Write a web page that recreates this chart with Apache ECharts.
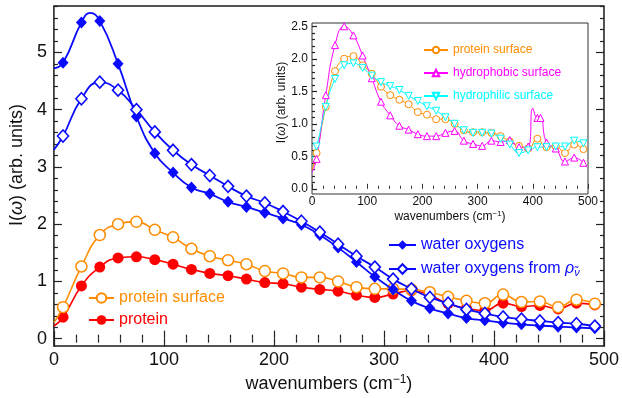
<!DOCTYPE html>
<html>
<head>
	<meta charset="UTF-8">
	<title></title>
	<style>
		html, body { margin: 0; padding: 0; background: #fff; }
		#chart { width: 622px; height: 398px; }
	</style>
	<script src="https://cdn.jsdelivr.net/npm/echarts@6/dist/echarts.min.js"></script>
</head>
<body>
	<div id="chart"></div>
	<script>
		// wavenumber of each sample (first one = start of curve, no marker)
		var wavenumbers = [0, 8.3, 25, 41.7, 58.3, 75, 91.7, 108.3, 125, 141.7, 158.3, 175, 191.7, 208.3, 225,
			241.7, 258.3, 275, 291.7, 308.3, 325, 341.7, 358.3, 375, 391.7, 408.3, 425, 441.7, 458.3, 475, 491.7];

		var waterOxygens = [4.72, 4.82, 5.52, 5.55, 4.80, 3.88, 3.24, 2.90, 2.64, 2.53, 2.39, 2.30, 2.20, 2.10, 1.99,
			1.81, 1.59, 1.34, 1.08, 0.86, 0.66, 0.53, 0.44, 0.36, 0.32, 0.28, 0.25, 0.23, 0.21, 0.195, 0.18];
		var waterOxygensPeak = [33, 5.69];   // top of the curve, line only
		var waterOxygensRho = [3.30, 3.54, 4.19, 4.48, 4.34, 4.00, 3.61, 3.29, 3.04, 2.85, 2.66, 2.49, 2.37, 2.22, 2.05,
			1.86, 1.65, 1.44, 1.25, 1.04, 0.87, 0.72, 0.62, 0.51, 0.44, 0.38, 0.34, 0.31, 0.28, 0.26, 0.22];
		var proteinSurface = [0.28, 0.55, 1.26, 1.81, 2.00, 2.04, 1.90, 1.77, 1.57, 1.44, 1.37, 1.30, 1.18, 1.14, 1.07,
			1.07, 1.00, 0.90, 0.87, 0.87, 0.86, 0.81, 0.73, 0.66, 0.62, 0.77, 0.64, 0.65, 0.55, 0.68, 0.61];
		var protein = [0.22, 0.375, 0.92, 1.25, 1.41, 1.43, 1.38, 1.30, 1.21, 1.14, 1.10, 1.04, 0.98, 0.96, 0.90,
			0.86, 0.83, 0.76, 0.72, 0.78, 0.84, 0.76, 0.61, 0.53, 0.49, 0.62, 0.56, 0.58, 0.52, 0.62, 0.59];

		// inset
		var hydrophobic = [0.25, 0.46, 1.44, 2.21, 2.50, 2.36, 2.05, 1.70, 1.34, 1.13, 0.97, 0.91, 0.84, 0.81, 0.81,
			0.86, 0.89, 0.74, 0.69, 0.66, 0.74, 0.72, 0.75, 0.64, 0.65, 1.09, 0.71, 0.62, 0.42, 0.48, 0.40];
		var hydrophobicPeak = [400, 1.24];   // line only
		var hydrophobicExtra = [414, 1.09];
		var hydrophilic = [0.47, 0.65, 1.26, 1.69, 1.90, 1.93, 1.86, 1.74, 1.64, 1.58, 1.52, 1.43, 1.35, 1.27, 1.20,
			1.10, 1.00, 0.90, 0.86, 0.86, 0.85, 0.77, 0.68, 0.55, 0.59, 0.64, 0.64, 0.65, 0.65, 0.74, 0.70];

		var mainYTicks = [0, 1, 2, 3, 4, 5];
		var insetYTicks = [0, 0.5, 1.0, 1.5, 2.0, 2.5];

		var BLUE = '#0a0aff', ORANGE = '#ff8c00', RED = '#ff0000', MAGENTA = '#ff00ff', CYAN = '#00ffff';
		var FONT = 'Liberation Sans';

		function pts(ys) {
			return wavenumbers.map(function (x, i) {
				if (i === 0) return { value: [x, ys[i]], symbol: 'none' };
				return [x, ys[i]];
			});
		}
		function byX(a, b) {
			var xa = a.value ? a.value[0] : a[0], xb = b.value ? b.value[0] : b[0];
			return xa - xb;
		}
		function minorList(step, from, to, majorStep) {
			var out = [];
			for (var v = from; v <= to + 1e-9; v += step) {
				var r = Math.round(v * 100) / 100;
				if (Math.abs(r / majorStep - Math.round(r / majorStep)) > 1e-6) out.push(r);
			}
			return out;
		}

		var waterData = pts(waterOxygens);
		waterData.push({ value: waterOxygensPeak, symbol: 'none' });
		waterData.sort(byX);

		var hydroData = pts(hydrophobic);
		hydroData.push({ value: hydrophobicPeak, symbol: 'none' });
		hydroData.push(hydrophobicExtra);
		hydroData.sort(byX);

		var myChart = echarts.init(document.getElementById('chart'));

		function yAx(grid, pos, min, max, vals, len, labels, extra) {
			var o = {
				type: 'value', gridIndex: grid, position: pos, min: min, max: max,
				axisLine: { show: false }, splitLine: { show: false },
				axisTick: { show: true, inside: true, length: len, customValues: vals, lineStyle: { color: '#222', width: 1.2 } },
				axisLabel: { show: false }
			};
			if (labels) o.axisLabel = labels;
			if (extra) for (var k in extra) o[k] = extra[k];
			return o;
		}

		myChart.setOption({
			animation: false,
			textStyle: { fontFamily: FONT },
			grid: [
				{ left: 52, right: 15, top: 6, bottom: 49, show: true, borderColor: '#1a1a1a', borderWidth: 1.5, backgroundColor: 'transparent' },
				{ left: 312, right: 34, top: 23, bottom: 204, show: true, borderColor: '#333', borderWidth: 1, backgroundColor: '#fff' }
			],
			xAxis: [
				{
					type: 'value', gridIndex: 0, min: 0, max: 500, interval: 100,
					axisLine: { show: false }, splitLine: { show: false },
					axisTick: { inside: true, length: 8, lineStyle: { color: '#222', width: 1.2 } },
					minorTick: { show: true, splitNumber: 5, length: 4, lineStyle: { color: '#222', width: 1.2 } },
					axisLabel: { fontSize: 18, color: '#111', margin: 5, fontFamily: FONT },
					name: 'wavenumbers (cm{s|\u22121})', nameLocation: 'middle', nameGap: 24,
					nameTextStyle: { fontSize: 18, color: '#111', fontFamily: FONT,
						rich: { s: { fontSize: 12, verticalAlign: 'top', padding: [0, 0, 8, 0], color: '#111', fontFamily: FONT } } }
				},
				{
					type: 'value', gridIndex: 0, position: 'top', min: 0, max: 500, interval: 100,
					axisLine: { show: false }, splitLine: { show: false },
					axisTick: { inside: true, length: 8, lineStyle: { color: '#222', width: 1.2 } },
					minorTick: { show: true, splitNumber: 5, length: 4, lineStyle: { color: '#222', width: 1.2 } },
					axisLabel: { show: false }
				},
				{
					type: 'value', gridIndex: 1, min: 0, max: 500, interval: 100,
					axisLine: { show: false }, splitLine: { show: false },
					axisTick: { inside: true, length: 5, lineStyle: { color: '#333' } },
					minorTick: { show: true, splitNumber: 5, length: 3, lineStyle: { color: '#333' } },
					axisLabel: { fontSize: 12, color: '#111', margin: 2, fontFamily: FONT },
					name: 'wavenumbers (cm{s|\u22121})', nameLocation: 'middle', nameGap: 16,
					nameTextStyle: { fontSize: 12, color: '#111', fontFamily: FONT,
						rich: { s: { fontSize: 8, verticalAlign: 'top', padding: [0, 0, 5, 0], color: '#111', fontFamily: FONT } } }
				}
			],
			yAxis: [
				yAx(0, 'left', -0.13, 5.81, mainYTicks, 8,
					{ show: true, customValues: mainYTicks, fontSize: 18, color: '#111', margin: 7, fontFamily: FONT },
					{
						name: 'I({i|\u03c9}) (arb. units)', nameLocation: 'middle', nameGap: 25, nameRotate: 90,
						nameTextStyle: { fontSize: 18, color: '#111', fontFamily: FONT, padding: [0, 0, 0, 22],
							rich: { i: { fontSize: 18, fontStyle: 'italic', color: '#111', fontFamily: FONT } } }
					}),
				yAx(0, 'left', -0.13, 5.81, minorList(0.2, 0, 5.8, 1), 4),
				yAx(0, 'right', -0.13, 5.81, mainYTicks, 8),
				yAx(0, 'right', -0.13, 5.81, minorList(0.2, 0, 5.8, 1), 4),
				yAx(1, 'left', -0.08, 2.55, insetYTicks, 5,
					{ show: true, customValues: insetYTicks, fontSize: 12, color: '#111', margin: 4, fontFamily: FONT,
						formatter: function (v) { return v.toFixed(1); } },
					{
						name: 'I({i|\u03c9}) (arb. units)', nameLocation: 'middle', nameGap: 24, nameRotate: 90,
						nameTextStyle: { fontSize: 12, color: '#111', fontFamily: FONT, padding: [0, 0, 0, 12],
							rich: { i: { fontSize: 12, fontStyle: 'italic', color: '#111', fontFamily: FONT } } }
					}),
				yAx(1, 'left', -0.08, 2.55, minorList(0.1, 0, 2.5, 0.5), 3)
			],
			legend: [
				{
					orient: 'vertical', left: 383, top: 231, itemWidth: 27, itemHeight: 12, itemGap: 6,
					selectedMode: false,
					data: ['water oxygens', 'water oxygens from \u03c1'],
					formatter: function (n) { return n === 'water oxygens' ? n : 'water oxygens from {i|\u03c1}{s|\u03bd\u0303}'; },
					textStyle: { fontSize: 16, color: BLUE, fontFamily: FONT, lineHeight: 18,
						rich: {
							i: { fontSize: 16, fontStyle: 'italic', color: BLUE, fontFamily: FONT },
							s: { fontSize: 11, fontStyle: 'italic', color: BLUE, fontFamily: FONT, verticalAlign: 'bottom', padding: [6, 0, 0, 0] }
						} }
				},
				{
					orient: 'vertical', left: 83, top: 284, itemWidth: 25, itemHeight: 12, itemGap: 4,
					selectedMode: false,
					data: ['protein surface', 'protein'],
					formatter: function (n) { return n === 'protein' ? '{r|protein}' : '{o|protein surface}'; },
					textStyle: { fontSize: 16, fontFamily: FONT, lineHeight: 18,
						rich: { o: { fontSize: 16, color: ORANGE, fontFamily: FONT }, r: { fontSize: 16, color: RED, fontFamily: FONT } } }
				},
				{
					orient: 'vertical', left: 418, top: 38, itemWidth: 24, itemHeight: 8, itemGap: 9,
					selectedMode: false,
					data: ['inset protein surface', 'hydrophobic surface', 'hydrophilic surface'],
					formatter: function (n) {
						if (n === 'inset protein surface') return '{o|protein surface}';
						if (n === 'hydrophobic surface') return '{m|hydrophobic surface}';
						return '{c|hydrophilic surface}';
					},
					textStyle: { fontSize: 12, fontFamily: FONT, lineHeight: 14,
						rich: {
							o: { fontSize: 12, color: ORANGE, fontFamily: FONT },
							m: { fontSize: 12, color: MAGENTA, fontFamily: FONT },
							c: { fontSize: 12, color: CYAN, fontFamily: FONT }
						} }
				}
			],
			series: [
				{
					name: 'water oxygens', type: 'line', xAxisIndex: 0, yAxisIndex: 0, smooth: 0.5,
					data: waterData, symbol: 'diamond', symbolSize: [11, 12],
					lineStyle: { color: BLUE, width: 1.8 }, itemStyle: { color: BLUE }, z: 4
				},
				{
					name: 'water oxygens from \u03c1', type: 'line', xAxisIndex: 0, yAxisIndex: 0, smooth: 0.5,
					data: pts(waterOxygensRho), symbol: 'diamond', symbolSize: [11, 12],
					lineStyle: { color: BLUE, width: 1.8 }, itemStyle: { color: '#fff', borderColor: BLUE, borderWidth: 1.6 }, z: 4
				},
				{
					name: 'protein surface', type: 'line', xAxisIndex: 0, yAxisIndex: 0, smooth: 0.5,
					data: pts(proteinSurface), symbol: 'circle', symbolSize: 11,
					lineStyle: { color: ORANGE, width: 1.6 }, itemStyle: { color: '#fff', borderColor: ORANGE, borderWidth: 1.5 }, z: 3
				},
				{
					name: 'protein', type: 'line', xAxisIndex: 0, yAxisIndex: 0, smooth: 0.5,
					data: pts(protein), symbol: 'circle', symbolSize: 11,
					lineStyle: { color: RED, width: 1.6 }, itemStyle: { color: RED }, z: 2
				},
				{
					name: 'inset protein surface', type: 'line', xAxisIndex: 2, yAxisIndex: 4, smooth: 0.5,
					data: pts(proteinSurface), symbol: 'circle', symbolSize: 7,
					lineStyle: { color: ORANGE, width: 1 }, itemStyle: { color: '#fff', borderColor: ORANGE, borderWidth: 1 }, z: 5
				},
				{
					name: 'hydrophobic surface', type: 'line', xAxisIndex: 2, yAxisIndex: 4, smooth: 0.5,
					data: hydroData, symbol: 'triangle', symbolSize: 7,
					lineStyle: { color: MAGENTA, width: 1 }, itemStyle: { color: '#fff', borderColor: MAGENTA, borderWidth: 1 }, z: 5
				},
				{
					name: 'hydrophilic surface', type: 'line', xAxisIndex: 2, yAxisIndex: 4, smooth: 0.5,
					data: pts(hydrophilic), symbol: 'triangle', symbolRotate: 180, symbolSize: 7,
					lineStyle: { color: CYAN, width: 1 }, itemStyle: { color: '#fff', borderColor: CYAN, borderWidth: 1 }, z: 5
				}
			]
		});
	</script>
</body>
</html>
